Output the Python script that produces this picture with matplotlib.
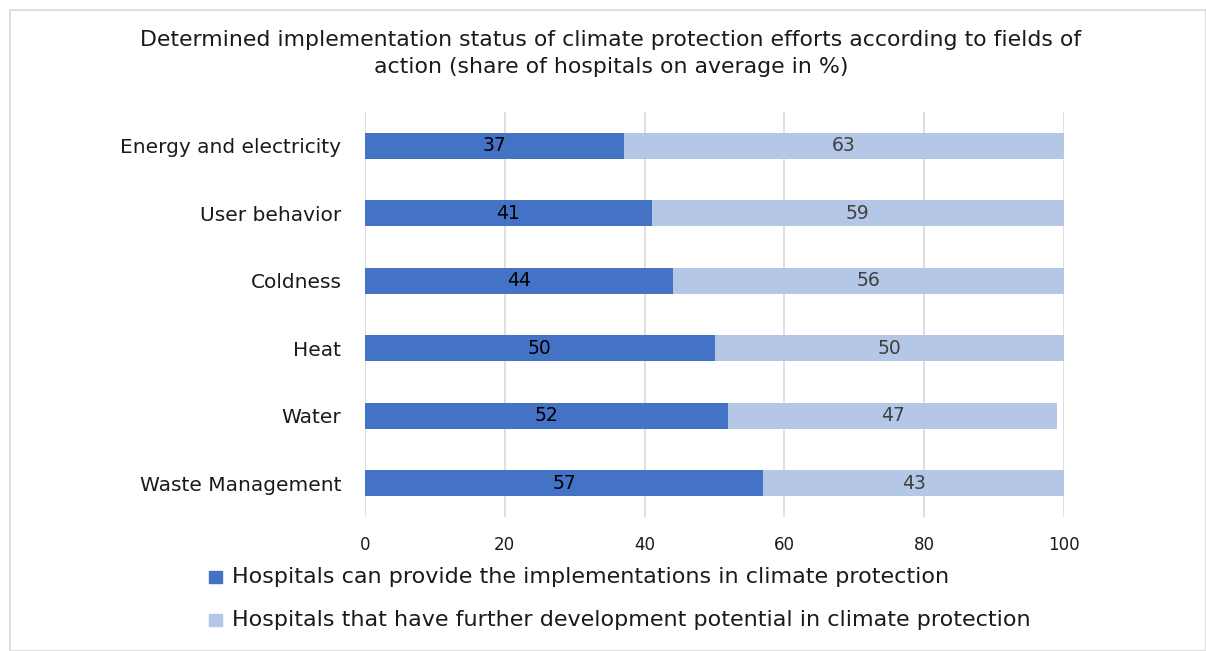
import matplotlib.pyplot as plt
from matplotlib.patches import Rectangle

categories = ['Energy and electricity', 'User behavior', 'Coldness', 'Heat', 'Water', 'Waste Management']
implemented = [37, 41, 44, 50, 52, 57]
potential = [63, 59, 56, 50, 47, 43]
series_names = ['Hospitals can provide the implementations in climate protection',
                'Hospitals that have further development potential in climate protection']
dark = '#4472C4'
light = '#B4C7E7'

W, H = 1206, 651
fig = plt.figure(figsize=(W / 100, H / 100), dpi=100)
plt.rcParams['font.family'] = 'DejaVu Sans'

# outer frame
fig.patches.append(Rectangle((10 / W, 0), (W - 10) / W, (H - 10) / H, transform=fig.transFigure,
                             fill=False, edgecolor='#d9d9d9', lw=1.2))

ax = fig.add_axes([365 / W, 1 - 517 / H, (1064 - 365) / W, (517 - 112) / H])
y = list(range(len(categories)))
ax.barh(y, implemented, height=0.39, color=dark, zorder=3)
ax.barh(y, potential, left=implemented, height=0.39, color=light, zorder=3)

for i in y:
    ax.text(implemented[i] / 2, i, str(implemented[i]), ha='center', va='center',
            fontsize=13.5, color='black', zorder=4)
    ax.text(implemented[i] + potential[i] / 2, i, str(potential[i]), ha='center', va='center',
            fontsize=13.5, color='#404040', zorder=4)

ax.set_ylim(len(categories) - 0.5, -0.5)
ax.set_xlim(0, 100)
ax.set_xticks([0, 20, 40, 60, 80, 100])
ax.set_yticks(y)
ax.set_yticklabels(categories, fontsize=14.5, color='#1a1a1a')
ax.tick_params(axis='x', length=0, labelsize=12, colors='#1a1a1a', pad=14)
ax.tick_params(axis='y', length=0, pad=17)
ax.grid(axis='x', color='#d9d9d9', lw=1.2, zorder=0)
for s in ax.spines.values():
    s.set_visible(False)

fig.text(611 / W, 1 - 40 / H, 'Determined implementation status of climate protection efforts according to fields of',
         ha='center', va='center', fontsize=15.8, color='#1a1a1a')
fig.text(611 / W, 1 - 67 / H, 'action (share of hospitals on average in %)',
         ha='center', va='center', fontsize=15.8, color='#1a1a1a')

# legend
for k, (name, col) in enumerate(zip(series_names, [dark, light])):
    yy = 577 + 43 * k
    fig.patches.append(Rectangle((209 / W, 1 - (yy + 6) / H), 13 / W, 12 / H,
                                 transform=fig.transFigure, color=col))
    fig.text(232 / W, 1 - yy / H, name, ha='left', va='center', fontsize=16, color='#1a1a1a')

fig.savefig('out.png', dpi=100)
